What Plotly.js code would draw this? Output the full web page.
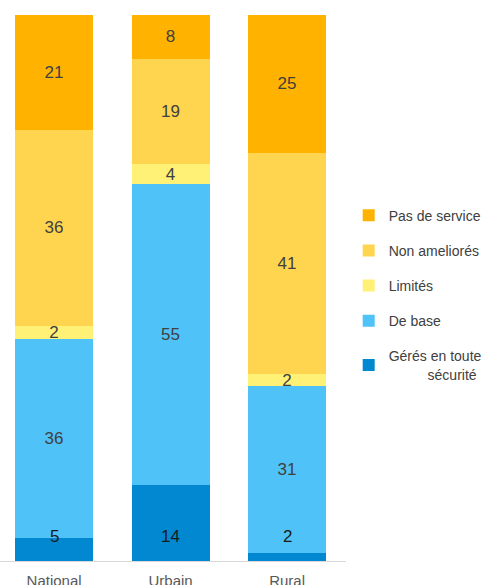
<!DOCTYPE html>
<html><head><meta charset="utf-8">
<script src="https://cdn.plot.ly/plotly-3.0.1.min.js"></script>
<style>body{margin:0;padding:0;}#chart{width:487px;height:585px;}</style>
</head><body><div id="chart"></div>
<script>
const categories = ["National", "Urbain", "Rural"];
// underlying shares and the rounded labels shown
const geres = [4.3, 13.9, 1.5];
const deBase = [36.3, 55.1, 30.6];
const limites = [2.5, 3.7, 2.1];
const nonAmeliores = [35.8, 19.3, 40.6];
const pasDeService = [21.1, 8.0, 25.2];
const geresLabels = ["5", "14", "2"];
const deBaseLabels = ["36", "55", "31"];
const limitesLabels = ["2", "4", "2"];
const nonAmelioresLabels = ["36", "19", "41"];
const pasDeServiceLabels = ["21", "8", "25"];

const seriesNames = ["Gérés en toute<br>\u00a0\u00a0\u00a0\u00a0\u00a0\u00a0\u00a0\u00a0\u00a0\u00a0sécurité", "De base", "Limités", "Non ameliorés", "Pas de service"];
const seriesValues = [geres, deBase, limites, nonAmeliores, pasDeService];
const seriesLabels = [geresLabels, deBaseLabels, limitesLabels, nonAmelioresLabels, pasDeServiceLabels];
const colors = ["#0288D1", "#4FC3F7", "#FFF176", "#FFD54F", "#FFB300"];
const FONT = "Liberation Sans, Arial, sans-serif";

const traces = seriesValues.map((vals, i) => ({
  type: "bar",
  name: seriesNames[i],
  x: categories,
  y: vals,
  text: i === 0 ? null : seriesLabels[i],
  textposition: i === 0 ? "none" : "inside",
  insidetextanchor: "middle",
  textangle: 0,
  constraintext: "none",
  textfont: {family: FONT, size: 17, color: "#404040"},
  marker: {color: colors[i], line: {width: 0}},
  legendgroup: "g" + i,
  legendrank: 5 - i,
  hoverinfo: "none"
}));

const annotations = categories.map((c, k) => ({
  x: c, y: 0, xref: "x", yref: "y",
  text: geresLabels[k],
  showarrow: false,
  yanchor: "bottom",
  yshift: 13,
  font: {family: FONT, size: 17, color: "#1a1a1a"}
}));

const layout = {
  width: 487, height: 585,
  margin: {l: 0, r: 0, t: 15, b: 24},
  barmode: "stack",
  bargap: 0.33,
  paper_bgcolor: "#ffffff",
  plot_bgcolor: "#ffffff",
  showlegend: true,
  annotations: annotations,
  legend: {
    traceorder: "grouped",
    x: 0.716, xanchor: "left",
    y: 0.487, yanchor: "middle",
    tracegroupgap: 14,
    font: {family: FONT, size: 14, color: "#404040"},
    itemwidth: 30
  },
  xaxis: {
    domain: [0, 346 / 487],
    range: [-0.464, 2.506],
    showgrid: false, zeroline: false,
    showline: true, linecolor: "#d9d9d9", linewidth: 1,
    ticks: "",
    ticklabelstandoff: 6,
    tickfont: {family: FONT, size: 15, color: "#595959"}
  },
  yaxis: {
    range: [0, 100],
    visible: false, showgrid: false, zeroline: false
  },
  font: {family: FONT}
};

Plotly.newPlot("chart", traces, layout, {displayModeBar: false, staticPlot: true});
</script>
</body></html>
